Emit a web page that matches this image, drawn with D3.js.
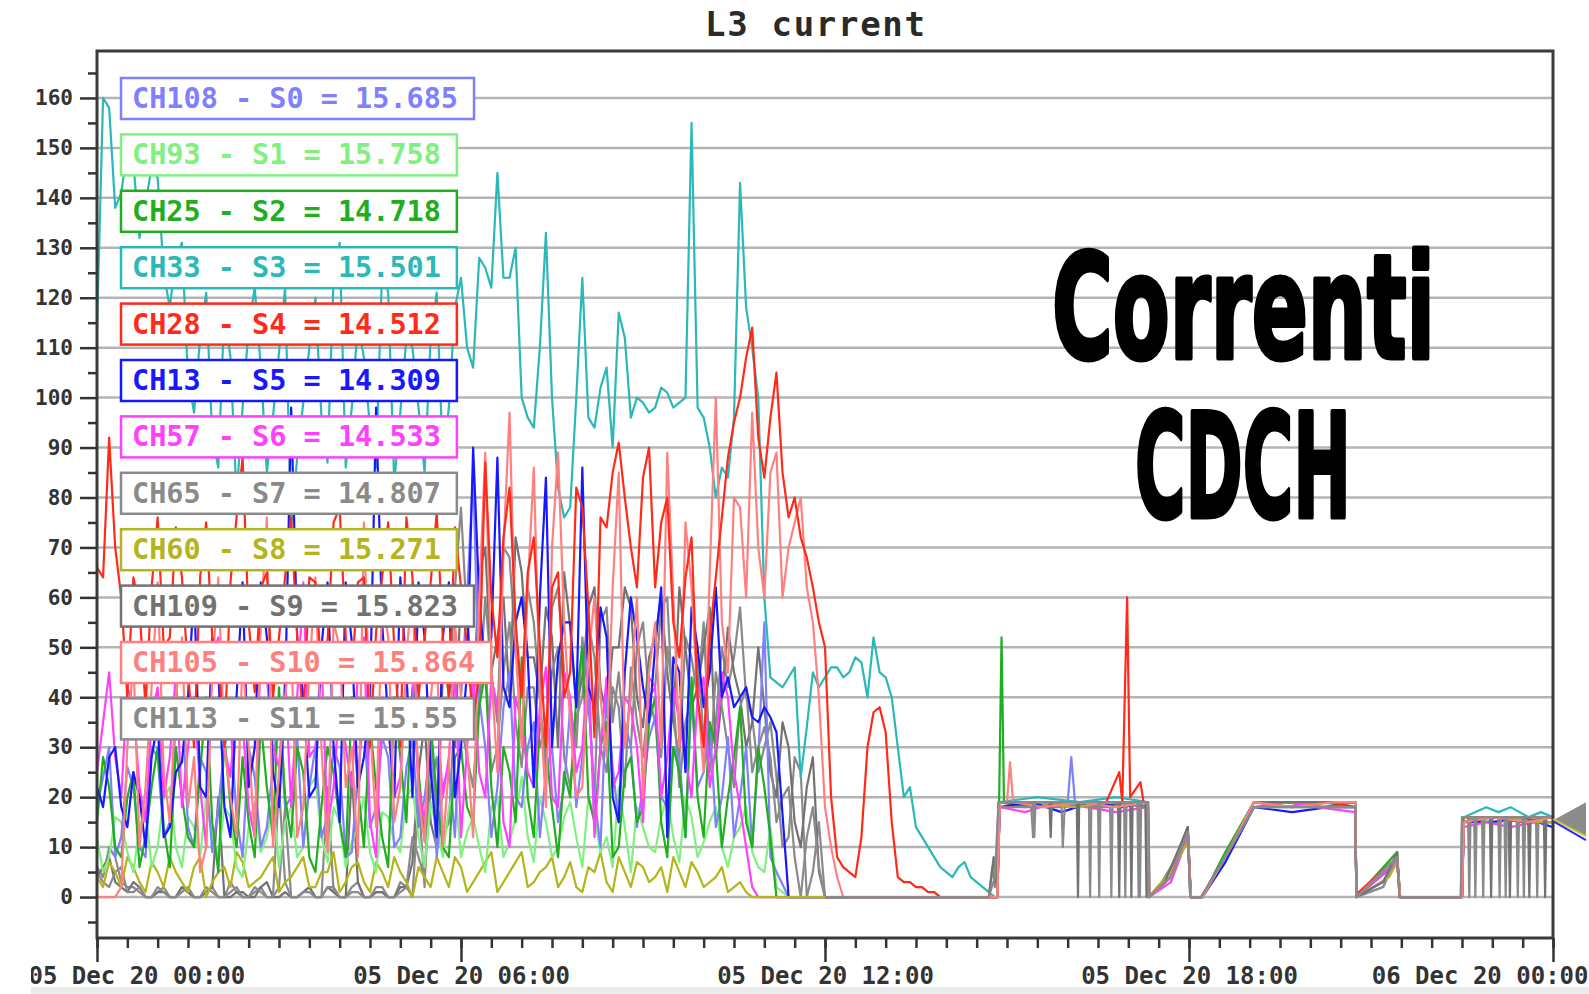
<!DOCTYPE html>
<html>
<head>
<meta charset="utf-8">
<script src="https://cdn.jsdelivr.net/npm/d3@7"></script>
<style>
  body { margin: 0; background: #fff; }
  svg { display: block; }
</style>
</head>
<body>
<div id="chart"></div>
<script>

// ---------------- data ----------------

var STEP = 0.2; // hours between two early samples (00:00 -> ~15:00)

// early part of each channel, one value every STEP hours from 00:00
var s0Early = [18,30,12,22,8,28,
  15,40,10,25,18,35,8,24,14,38,
  20,10,30,16,26,9,36,18,28,12,
  32,20,8,26,40,85,30,22,45,18,
  35,25,15,38,28,20,42,15,30,22,
  36,18,28,40,25,14,32,20,10,55,
  5,0];
var s1Early = [12,8,15,5,18,10,
  22,6,14,20,8,16,4,19,12,6,
  18,10,24,7,15,11,20,5,16,9,
  22,6,14,18,8,16,5,20,11,24,
  7,15,10,19,6,16,12,22,5,14,
  9,20,7,16,11,18,6,14,9,5,
  2,0];
var s2Early = [15,22,8,25,12,30,
  6,20,10,40,5,18,28,8,22,42,
  12,25,5,30,15,40,10,22,6,28,
  42,12,20,8,30,15,45,10,25,48,
  12,30,8,20,50,15,35,10,28,18,
  40,8,25,44,12,30,20,38,10,22,
  0];
var s3Early = [114,158,141,147,139,144,
  118,131,97,121,86,108,98,122,85,109,
  74,99,120,87,131,98,108,86,121,97,
  110,85,121,98,124,106,126,145,124,100,
  94,133,82,78,124,94,106,117,96,99,
  98,101,99,155,96,80,84,143,110,60,
  43,44,24,45,44,46,45,47,52,44,
  30,22,12,8,5,6,4,2,0];
var s4Early = [66,92,60,64,38,76,
  52,64,30,75,48,63,88,41,65,52,
  76,35,63,51,78,44,64,53,75,30,
  64,52,77,40,62,35,87,48,82,40,
  72,30,65,45,78,32,74,91,70,84,
  62,80,48,72,30,64,88,100,114,84,
  105,76,72,62,50,8,5,12,37,33,
  4,3,2,1,0];
var s5Early = [22,28,18,25,10,35,
  14,27,62,20,45,12,63,30,52,18,
  98,40,22,63,15,51,28,98,35,64,
  20,52,12,63,30,90,45,88,38,60,
  22,84,48,55,86,38,52,15,60,42,
  50,12,45,58,38,62,44,40,36,38,
  33,0];
var s6Early = [25,45,20,38,15,42,
  28,18,40,10,52,24,35,12,44,26,
  18,63,30,14,40,22,52,8,35,24,
  44,15,38,28,12,44,20,38,10,35,
  22,46,18,40,30,12,44,25,38,15,
  42,28,35,20,44,30,40,18,2,0];
var s7Early = [6,10,3,2,0,1,
  0,2,0,1,0,3,0,1,0,2,
  0,1,0,22,0,2,0,1,0,3,
  0,2,15,40,78,45,60,35,68,40,
  55,25,62,38,52,20,58,45,30,55,
  42,60,28,48,55,35,42,58,36,30,
  24,12,25,5,0];
var s8Early = [4,7,2,6,1,5,
  8,3,6,0,5,2,7,3,6,1,
  4,8,2,5,1,6,3,7,2,5,
  0,4,8,2,6,3,7,1,5,9,
  3,6,2,7,1,5,3,8,2,6,
  4,1,5,7,2,4,1,3,0];
var s9Early = [4,8,2,3,0,1,
  0,2,0,1,20,0,1,0,3,0,
  0,1,0,2,0,25,0,1,0,2,
  7,35,10,50,62,38,70,52,40,65,
  48,58,30,54,44,62,36,50,58,34,
  52,45,62,38,50,28,54,40,35,38,
  20,30,10,28,0];
var s10Early = [0,0,2,48,22,63,
  15,52,28,10,64,20,48,12,76,25,
  51,18,64,9,50,30,75,14,52,22,
  63,11,50,26,40,12,89,25,97,30,
  86,18,89,35,22,60,28,85,40,20,
  55,89,30,62,25,100,45,78,97,60,
  89,70,80,55,18,4,0];
var s11Early = [5,2,6,1,0,2,
  0,1,0,2,0,1,0,2,0,22,
  0,1,0,2,0,1,0,2,0,1,
  12,4,28,15,35,22,48,30,55,26,
  42,35,50,22,40,48,25,38,46,28,
  35,50,22,40,32,45,30,38,25,34,
  15,22,0,18,0];

// samples half way between the early ones (00:06, 00:18, ...)
var s0Mid = [24,8,26,10,30,12,
  35,14,28,9,30,16,30,10,26,18,
  32,22,12,30,8,25,14,32,10,26,
  14,30,22,12,60,40,12,38,20,30,
  12,30,22,18,40,10,26,35,14,32,
  20,30,12,22,35,20,12,30,28,8];
var s1Mid = [5,16,9,14,6,20,
  10,16,8,12,18,6,14,9,20,15,
  8,22,12,18,6,14,9,17,11,20,
  12,19,8,22,13,10,18,8,16,12,
  20,8,16,12,20,9,6,14,18,10,
  16,12,20,8,15,10,12,18,6,14];
var s2Mid = [28,10,20,6,22,14,
  30,12,25,15,32,10,15,35,12,20,
  30,8,18,25,8,22,35,12,40,15,
  25,35,10,28,18,38,22,30,15,20,
  35,18,25,40,20,30,8,25,15,35,
  15,30,12,20,35,10,28,15,30,12];
var s3Mid = [160,138,150,132,146,125,
  128,104,112,92,118,80,114,106,96,122,
  88,110,96,124,86,115,94,126,83,112,
  98,112,88,118,110,128,122,124,130,96,
  110,100,76,100,96,102,90,112,100,97,
  102,98,100,98,90,86,96,118,100,44,
  42,46,34,42,46,44,48,40,45,40,
  20,14,10,6,4,7,3,1];
var s4Mid = [64,70,40,58,62,50,
  74,45,64,52,30,76,55,62,40,64,
  52,64,45,75,52,63,30,64,50,76,
  40,63,52,74,50,45,60,72,55,65,
  50,62,40,82,58,76,85,80,62,90,
  75,55,64,40,52,76,95,108,92,96,
  85,80,68,55,20,6,4,30,38,15,
  3,2,1,0];
var s5Mid = [18,30,14,20,28,12,
  25,40,22,52,18,40,22,63,25,40,
  52,20,50,30,63,22,40,55,20,45,
  63,25,52,20,45,60,52,42,55,48,
  60,30,55,38,42,58,20,45,52,35,
  62,48,25,50,45,40,38,42,35,36];
var s6Mid = [35,28,42,22,36,20,
  45,30,22,48,30,40,18,50,30,44,
  40,28,48,22,30,45,15,40,20,44,
  22,38,20,45,30,25,44,15,40,25,
  38,20,45,25,48,30,22,40,30,44,
  20,42,28,40,22,45,25,10,0];
var s7Mid = [4,8,2,1,0,2,
  0,1,0,2,0,1,0,2,0,18,
  0,2,0,1,0,3,0,1,0,2,
  20,35,52,62,55,40,45,70,50,62,
  40,58,45,30,40,55,35,30,50,40,
  58,35,52,40,28,50,48,40,25,35,
  10,28,0,15];
var s8Mid = [2,5,8,3,7,2,
  5,1,8,3,6,9,2,4,8,3,
  6,2,5,9,3,7,1,5,8,3,
  6,2,5,8,1,5,9,3,7,2,
  5,8,4,2,6,9,1,5,7,3,
  6,8,2,5,3,6,2,1];
var s9Mid = [6,3,1,2,0,1,
  0,1,0,2,0,1,0,2,0,1,
  0,2,0,1,0,3,0,1,0,2,
  25,15,45,30,55,65,45,60,72,48,
  40,52,65,38,58,42,50,62,40,48,
  60,35,50,42,58,40,45,30,50,25,
  35,15,22,5];
var s10Mid = [0,0,30,10,42,25,
  40,18,5,45,30,12,30,55,10,40,
  12,45,30,55,22,8,35,60,15,48,
  20,40,10,55,30,60,45,70,50,62,
  40,70,55,20,48,40,62,30,60,45,
  30,60,75,40,65,55,80,60,70,85,
  60,75,62,40,10,0];
var s11Mid = [3,5,1,2,0,1,
  0,2,0,1,0,2,0,1,0,3,
  0,1,0,2,0,1,0,2,0,2,
  8,22,12,38,28,40,25,45,35,42,
  30,45,28,36,55,30,42,22,35,40,
  28,40,35,48,25,38,22,42,30,28,
  20,8,12,6];

// late part, [hour, value]
var s0Late = [[14.84,0],[14.88,19],[15.3,18],[15.7,19],[16.0,19],[16.06,28],[16.12,19],[16.5,18],[17.0,19],[17.32,19],[17.34,0],
  [17.7,4],[17.98,13],[18.03,0],[18.22,0],[18.6,8],[19.07,19],[19.6,18],[20.2,19],[20.74,18],[20.76,0],[21.2,2],[21.43,8],[21.48,0],
  [22.5,0],[22.53,15],[23.0,16],[23.5,15],[24,15]];
var s1Late = [[14.84,0],[14.88,18],[15.4,19],[15.9,18],[16.4,19],[16.9,18],[17.32,19],[17.34,0],[17.7,3],[17.98,12],[18.03,0],
  [18.22,0],[18.6,7],[19.07,18],[19.7,19],[20.3,18],[20.74,19],[20.76,0],[21.43,7],[21.48,0],[22.5,0],[22.53,16],[23.1,15],[23.6,16],[24,16]];
var s2Late = [[14.84,0],[14.87,19],[14.91,52],[14.95,19],[15.5,18],[16.0,19],[16.5,18],[17.0,19],[17.32,18],[17.34,0],[17.7,5],
  [17.98,14],[18.03,0],[18.22,0],[18.6,9],[19.07,19],[19.6,19],[20.2,18],[20.74,19],[20.76,0],[21.43,9],[21.48,0],[22.5,0],
  [22.53,15],[23.0,16],[23.5,15],[24,15]];
var s3Late = [[14.84,0],[14.88,19],[15.5,20],[16.2,19],[16.8,20],[17.32,19],[17.34,0],[17.7,4],[17.98,13],[18.03,0],[18.22,0],
  [18.6,8],[19.07,19],[19.8,19],[20.74,19],[20.76,0],[21.43,8],[21.48,0],[22.5,0],[22.53,16],[22.9,18],[23.1,17],[23.3,18],
  [23.6,16],[23.8,17],[24,16]];
var s4Late = [[14.84,0],[14.88,19],[15.5,18],[16.0,19],[16.6,18],[16.85,25],[16.9,19],[16.98,60],[17.03,20],[17.2,23],[17.25,19],
  [17.32,19],[17.34,0],[17.7,5],[17.98,14],[18.03,0],[18.22,0],[18.6,8],[19.07,19],[19.7,18],[20.3,19],[20.74,18],[20.76,0],
  [20.8,1],[21.43,8],[21.48,0],[22.5,0],[22.53,15],[23.0,16],[23.5,15],[24,16]];
var s5Late = [[14.84,0],[14.88,18],[15.4,19],[15.9,17],[16.4,19],[16.9,18],[17.32,19],[17.34,0],[17.7,4],[17.98,12],[18.03,0],
  [18.22,0],[18.6,7],[19.07,18],[19.7,17],[20.3,18],[20.74,18],[20.76,0],[21.43,7],[21.48,0],[22.5,0],[22.53,15],[23.0,15],
  [23.5,16],[24,14]];
var s6Late = [[14.84,0],[14.88,18],[15.3,17],[15.8,19],[16.3,18],[16.8,17],[17.32,18],[17.34,0],[17.7,3],[17.98,12],[18.03,0],
  [18.22,0],[18.6,8],[19.07,18],[19.6,19],[20.1,18],[20.74,17],[20.76,0],[21.43,7],[21.48,0],[22.5,0],[22.53,14],[22.9,15],
  [23.3,14],[23.7,15],[24,15]];
var s7Late = [[14.7,0],[14.76,6],[14.8,2],[14.84,10],[14.86,18],[15.4,18],[15.43,12],[15.46,18],[15.9,18],[15.92,10],[15.95,18],
  [16.35,19],[16.37,0],[16.39,18],[16.7,18],[16.72,0],[16.74,18],[16.93,19],[16.95,0],[16.97,19],[17.17,18],[17.19,0],[17.21,18],
  [17.33,18],[17.35,0],[17.5,2],[17.8,8],[17.98,14],[18.02,0],[18.2,0],[18.6,8],[19.07,18],[20.74,18],[20.76,0],[21.2,2],
  [21.43,9],[21.47,0],[22.48,0],[22.5,16],[22.6,16],[22.62,0],[22.64,16],[22.83,16],[22.85,0],[22.87,16],[23.1,16],[23.12,0],
  [23.14,16],[23.4,16],[23.42,0],[23.44,16],[23.72,16],[23.74,0],[23.76,16],[24,16]];
var s8Late = [[14.84,0],[14.88,19],[15.5,19],[16.1,18],[16.7,19],[17.32,19],[17.34,0],[17.7,5],[17.98,11],[18.03,0],[18.22,0],
  [18.6,8],[19.07,19],[19.8,19],[20.74,19],[20.76,0],[21.3,4],[21.43,7],[21.48,0],[22.5,0],[22.53,16],[23.2,16],[23.8,15],[24,15]];
var s9Late = [[14.7,0],[14.78,8],[14.82,3],[14.86,19],[15.7,19],[15.72,12],[15.74,19],[16.15,19],[16.17,0],[16.19,19],[16.83,19],
  [16.85,0],[16.87,19],[17.03,19],[17.05,0],[17.07,19],[17.28,19],[17.3,0],[17.32,19],[17.34,0],[17.6,3],[17.98,14],[18.02,0],
  [18.2,0],[18.6,8],[19.07,19],[20.74,19],[20.76,0],[21.2,3],[21.43,9],[21.47,0],[22.5,0],[22.52,16],[22.96,16],[22.98,0],
  [23.0,16],[23.27,16],[23.29,0],[23.31,16],[23.59,16],[23.61,0],[23.63,16],[23.85,16],[23.87,0],[23.89,16],[24,16]];
var s10Late = [[14.84,0],[14.88,19],[15.0,19],[15.05,27],[15.1,19],[15.6,18],[16.2,19],[16.8,18],[17.32,19],[17.34,0],[17.7,4],
  [17.98,13],[18.03,0],[18.22,0],[18.6,8],[19.07,19],[19.7,18],[20.4,19],[20.74,19],[20.76,0],[21.43,8],[21.48,0],[22.5,0],
  [22.53,15],[23.0,16],[23.6,15],[24,16]];
var s11Late = [[14.7,0],[14.8,4],[14.86,19],[15.43,19],[15.45,12],[15.47,19],[16.5,19],[16.52,0],[16.54,19],[17.15,19],[17.17,0],
  [17.19,19],[17.33,19],[17.35,0],[17.7,4],[17.98,13],[18.02,0],[18.2,0],[18.6,8],[19.07,18],[20.74,18],[20.76,0],[21.43,8],
  [21.47,0],[22.48,0],[22.5,16],[22.7,16],[22.72,0],[22.74,16],[23.2,16],[23.22,0],[23.24,16],[23.5,16],[23.52,0],[23.54,16],[24,16]];

// legend
var channels = ['CH108','CH93','CH25','CH33','CH28','CH13','CH57','CH65','CH60','CH109','CH105','CH113'];
var readings = ['15.685','15.758','14.718','15.501','14.512','14.309','14.533','14.807','15.271','15.823','15.864','15.55'];
var seriesColors = ['#8080ff','#80f080','#1fae1f','#2bb8b8','#ff2a18','#1818ff','#ff40ff',
  '#8a8a8a','#b4b41c','#727272','#ff8080','#8a8a8a'];

// paint order of the busy first half (grays lie under the coloured ones);
// in the quiet second half the channels are painted in their own order
var drawOrder = [7, 9, 11, 8, 1, 0, 3, 2, 6, 5, 10, 4];

var yMajorTicks = d3.range(0, 161, 10);
var yMinorTicks = d3.range(-5, 166, 10);
var markerValue = 15.6; // last value arrow on the right

var START = new Date(2020, 11, 5, 0, 0);
var END = new Date(2020, 11, 6, 0, 0);

// ---------------- layout ----------------

var W = 1589, H = 994;
var PLOT_L = 97, PLOT_R = 1553, PLOT_T = 51, PLOT_B = 938;
var MONO = '"DejaVu Sans Mono", "Liberation Mono", monospace';

var svg = d3.select('#chart').append('svg')
  .attr('width', W)
  .attr('height', H);

var x = d3.scaleTime().domain([START, END]).range([PLOT_L, PLOT_R]);
var y = d3.scaleLinear().domain([-8.2, 169.4]).range([PLOT_B, PLOT_T]);

function hourToDate(h){
  return new Date(START.getTime() + h * 3600 * 1000);
}

// join early and mid samples of every channel, late part kept apart
var earlyData = [s0Early,s1Early,s2Early,s3Early,s4Early,s5Early,s6Early,s7Early,s8Early,s9Early,s10Early,s11Early];
var midData = [s0Mid,s1Mid,s2Mid,s3Mid,s4Mid,s5Mid,s6Mid,s7Mid,s8Mid,s9Mid,s10Mid,s11Mid];
var lateData = [s0Late,s1Late,s2Late,s3Late,s4Late,s5Late,s6Late,s7Late,s8Late,s9Late,s10Late,s11Late];

var firstHalf = earlyData.map(function(vals, k){
  var pts = vals.map(function(v, i){ return [i * STEP, v]; });
  midData[k].forEach(function(v, i){ pts.push([STEP / 2 + i * STEP, v]); });
  pts.sort(function(a, b){ return a[0] - b[0]; });
  return { idx: k, pts: pts };
});
// second half starts from the last early sample so the trace stays joined
var secondHalf = lateData.map(function(pts, k){
  var early = firstHalf[k].pts;
  return { idx: k, pts: [early[early.length - 1]].concat(pts) };
});
var traces = drawOrder.map(function(k){ return firstHalf[k]; }).concat(secondHalf);

// bottom light band of the screenshot
svg.append('rect')
  .attr('x', 30).attr('y', 987)
  .attr('width', W - 30).attr('height', 7)
  .attr('fill', '#ececec');

// title
svg.append('text')
  .attr('x', 815)
  .attr('y', 36)
  .attr('text-anchor', 'middle')
  .attr('font-family', MONO)
  .attr('font-weight', 'bold')
  .attr('font-size', 34)
  .attr('textLength', 220)
  .attr('lengthAdjust', 'spacing')
  .attr('fill', '#2a2a2a')
  .text('L3 current');

// horizontal grid
svg.append('g').selectAll('line')
  .data(yMajorTicks)
  .enter()
  .append('line')
    .attr('x1', PLOT_L).attr('x2', PLOT_R)
    .attr('y1', function(d){ return y(d); })
    .attr('y2', function(d){ return y(d); })
    .attr('stroke', '#b4b4b4')
    .attr('stroke-width', 2.5);

// clip for the traces
svg.append('clipPath').attr('id', 'plotClip')
  .append('rect')
    .attr('x', PLOT_L).attr('y', PLOT_T)
    .attr('width', PLOT_R - PLOT_L).attr('height', PLOT_B - PLOT_T);

var line = d3.line()
  .x(function(d){ return x(hourToDate(d[0])); })
  .y(function(d){ return y(d[1]); });

svg.append('g')
  .attr('clip-path', 'url(#plotClip)')
  .selectAll('path')
  .data(traces)
  .enter()
  .append('path')
    .attr('d', function(d){ return line(d.pts); })
    .attr('fill', 'none')
    .attr('stroke', function(d){ return seriesColors[d.idx]; })
    .attr('stroke-width', 2.2)
    .attr('stroke-linejoin', 'round');

// legend boxes
var legend = svg.append('g');
channels.forEach(function(ch, i){
  var g = legend.append('g')
    .attr('transform', 'translate(121,' + (78 + i * 56.4) + ')');
  var box = g.append('rect')
    .attr('height', 41)
    .attr('fill', '#fff')
    .attr('stroke', seriesColors[i])
    .attr('stroke-width', 2.5);
  var txt = g.append('text')
    .attr('x', 11)
    .attr('y', 30)
    .attr('font-family', MONO)
    .attr('font-weight', 'bold')
    .attr('font-size', 28.5)
    .attr('fill', seriesColors[i])
    .text(ch + ' - S' + i + ' = ' + readings[i]);
  box.attr('width', txt.node().getComputedTextLength() + 27);
});

// big condensed label on the right: squeeze the bold font into the box
function bigLabel(str, left, base, width){
  var t = svg.append('text')
    .attr('font-family', '"DejaVu Sans", sans-serif')
    .attr('font-weight', 'bold')
    .attr('font-size', 145)
    .attr('fill', '#000')
    .attr('stroke', '#000')
    .attr('stroke-width', 5)
    .attr('stroke-linejoin', 'round')
    .text(str);
  var sx = (width - 4) / t.node().getComputedTextLength();
  t.attr('transform', 'translate(' + (left + 2) + ',' + base + ') scale(' + sx + ',1)');
}
bigLabel('Correnti', 1050, 358, 387);
bigLabel('CDCH', 1133, 517, 220);

// frame
svg.append('rect')
  .attr('x', PLOT_L).attr('y', PLOT_T)
  .attr('width', PLOT_R - PLOT_L).attr('height', PLOT_B - PLOT_T)
  .attr('fill', 'none')
  .attr('stroke', '#3a3a3a')
  .attr('stroke-width', 3);

// y axis
var yMinor = svg.append('g')
  .attr('transform', 'translate(' + PLOT_L + ',0)')
  .call(d3.axisLeft(y).tickValues(yMinorTicks).tickSize(9).tickFormat(''));
var yMajor = svg.append('g')
  .attr('transform', 'translate(' + PLOT_L + ',0)')
  .call(d3.axisLeft(y).tickValues(yMajorTicks).tickSize(17).tickPadding(7));

// x axis
var xMinor = svg.append('g')
  .attr('transform', 'translate(0,' + PLOT_B + ')')
  .call(d3.axisBottom(x).ticks(d3.timeMinute.every(30)).tickSize(10).tickFormat(''));
var xMajor = svg.append('g')
  .attr('transform', 'translate(0,' + PLOT_B + ')')
  .call(d3.axisBottom(x).ticks(d3.timeHour.every(6)).tickSize(24).tickPadding(5)
    .tickFormat(d3.timeFormat('%d %b %y %H:%M')));

[yMinor, yMajor, xMinor, xMajor].forEach(function(ax){
  ax.select('.domain').remove();
  ax.attr('font-family', null).attr('font-size', null);
  ax.selectAll('.tick line')
    .attr('stroke', '#333')
    .attr('stroke-width', 2.5);
  ax.selectAll('.tick text')
    .attr('font-family', MONO)
    .attr('font-weight', 'bold')
    .attr('fill', '#333');
});
yMajor.selectAll('.tick text').attr('font-size', 21);
xMajor.selectAll('.tick text').attr('font-size', 24);

// first and last date labels are pushed inside the canvas
var xLabels = xMajor.selectAll('.tick text');
var nLabels = xLabels.size();
xLabels.each(function(d, i){
  if(i === 0){
    d3.select(this).attr('text-anchor', 'start').attr('x', 28 - PLOT_L);
  } else if(i === nLabels - 1){
    d3.select(this).attr('text-anchor', 'end').attr('x', 1588 - PLOT_R);
  }
});

// cut at the left edge of the screenshot
svg.append('rect')
  .attr('x', 0).attr('y', 940)
  .attr('width', 31).attr('height', H - 940)
  .attr('fill', '#fff');

// last value arrow on the right
var ay = y(markerValue);
svg.append('path')
  .attr('d', 'M' + (PLOT_R + 2) + ',' + ay + 'L1586,' + (ay - 17) + 'L1586,' + (ay + 17) + 'Z')
  .attr('fill', '#8c8c8c');
svg.append('line')
  .attr('x1', PLOT_R).attr('y1', ay).attr('x2', 1586).attr('y2', ay + 17)
  .attr('stroke', '#c8c820').attr('stroke-width', 2);
svg.append('line')
  .attr('x1', PLOT_R).attr('y1', ay + 2).attr('x2', 1586).attr('y2', ay + 21)
  .attr('stroke', '#2828ff').attr('stroke-width', 2);

</script>
</body>
</html>
